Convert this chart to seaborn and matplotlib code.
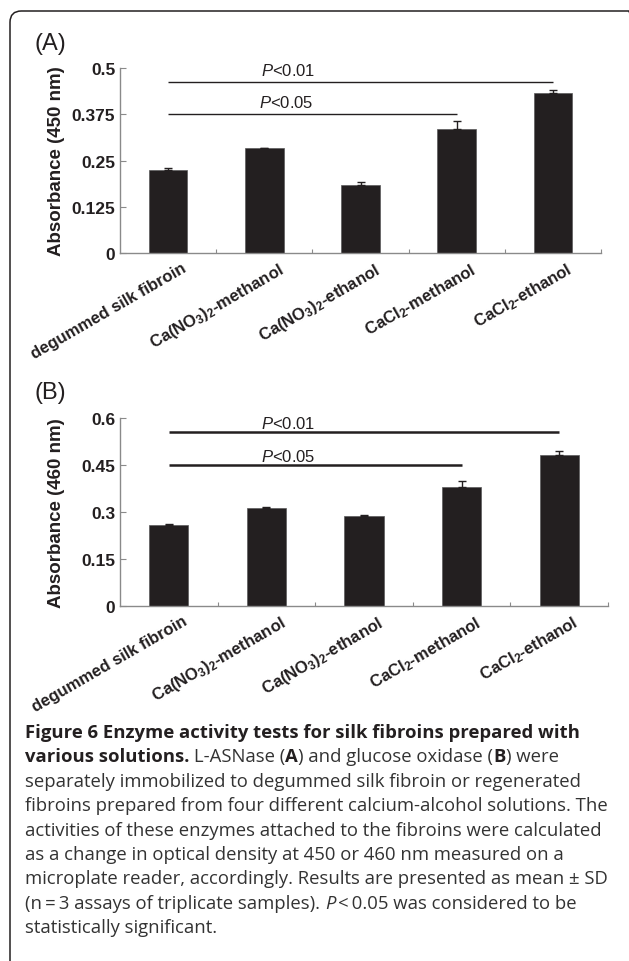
import numpy as np
import pandas as pd
import matplotlib
matplotlib.use("Agg")
import matplotlib.pyplot as plt
import seaborn as sns
from matplotlib.patches import FancyBboxPatch
from matplotlib.transforms import ScaledTranslation

# ---------------- data ----------------
categories = ["degummed silk fibroin", "Ca(NO3)2-methanol", "Ca(NO3)2-ethanol",
              "CaCl2-methanol", "CaCl2-ethanol"]
tick_labels = ["degummed silk fibroin",
               r"Ca(NO$_3$)$_2$-methanol",
               r"Ca(NO$_3$)$_2$-ethanol",
               r"CaCl$_2$-methanol",
               r"CaCl$_2$-ethanol"]

a_means = [0.224, 0.283, 0.183, 0.335, 0.432]
a_sd = [0.005, 0.002, 0.009, 0.022, 0.008]
a_yticks = [0, 0.125, 0.25, 0.375, 0.5]
a_yticklabels = ["0", "0.125", "0.25", "0.375", "0.5"]
a_ylabel = "Absorbance (450 nm)"

b_means = [0.258, 0.312, 0.288, 0.379, 0.481]
b_sd = [0.005, 0.005, 0.004, 0.019, 0.015]
b_yticks = [0, 0.15, 0.3, 0.45, 0.6]
b_yticklabels = ["0", "0.15", "0.3", "0.45", "0.6"]
b_ylabel = "Absorbance (460 nm)"

# significance brackets: (from cat, to cat, line y, text, text x)
a_sig = [(0, 4, 0.462, "<0.01", 1.25), (0, 3, 0.376, "<0.05", 1.23)]
b_sig = [(0, 4, 0.554, "<0.01", 1.22), (0, 3, 0.451, "<0.05", 1.22)]

caption_lines = [
    [("Figure 6 Enzyme activity tests for silk fibroins prepared with", "bold", "normal")],
    [("various solutions.", "bold", "normal"), (" L-ASNase (", "normal", "normal"),
     ("A", "bold", "normal"), (") and glucose oxidase (", "normal", "normal"),
     ("B", "bold", "normal"), (") were", "normal", "normal")],
    [("separately immobilized to degummed silk fibroin or regenerated", "normal", "normal")],
    [("fibroins prepared from four different calcium-alcohol solutions. The", "normal", "normal")],
    [("activities of these enzymes attached to the fibroins were calculated", "normal", "normal")],
    [("as a change in optical density at 450 or 460 nm measured on a", "normal", "normal")],
    [("microplate reader, accordingly. Results are presented as mean \u00b1 SD", "normal", "normal")],
    [("(n\u2009=\u20093 assays of triplicate samples). ", "normal", "normal"), ("P", "normal", "italic"),
     ("\u2009<\u20090.05 was considered to be", "normal", "normal")],
    [("statistically significant.", "normal", "normal")],
]

# ---------------- style ----------------
sns.set_style("ticks")
plt.rcParams["font.family"] = ["Liberation Sans", "DejaVu Sans"]
plt.rcParams["mathtext.fontset"] = "custom"
plt.rcParams["mathtext.rm"] = "Liberation Sans:bold"
plt.rcParams["mathtext.bf"] = "Liberation Sans:bold"
plt.rcParams["mathtext.it"] = "Liberation Sans:italic"
plt.rcParams["mathtext.default"] = "bf"

INK = "#231f20"
AXIS_GRAY = "#8a8a8a"
W, H = 629, 962
fig = plt.figure(figsize=(W / 100, H / 100), dpi=100)


def px_ax(l, r, t, b):
    return [l / W, 1 - b / H, (r - l) / W, (b - t) / H]


def panel(ax, means, sd, ylim, yticks, yticklabels, ylabel, sigs, sig_lw, txt_gap, ylab_x):
    df = pd.DataFrame({"cat": categories, "val": means})
    sns.barplot(data=df, x="cat", y="val", color=INK, width=0.4, errorbar=None,
                saturation=1, ax=ax, edgecolor="#5a5a5a", linewidth=0.5)
    x = np.arange(len(means))
    ax.errorbar(x, means, yerr=[np.zeros(len(sd)), sd], fmt="none", ecolor=INK,
                elinewidth=1.0, capsize=2.6, capthick=1.0, zorder=1)
    ax.set_xlim(-0.5, len(means) - 0.5)
    ax.set_ylim(*ylim)
    for s in ["top", "right"]:
        ax.spines[s].set_visible(False)
    for s in ["left", "bottom"]:
        ax.spines[s].set_color(AXIS_GRAY)
        ax.spines[s].set_linewidth(1.0)
    ax.set_yticks(yticks)
    ax.set_yticklabels(yticklabels, fontsize=12.5, fontweight="bold", color=INK)
    ax.tick_params(axis="y", direction="in", length=4, width=0.8, color=AXIS_GRAY, pad=3.5)
    ax.set_xticks(x)
    ax.set_xticklabels(tick_labels, rotation=30, ha="right", va="top",
                       rotation_mode="anchor", fontsize=12, fontweight="bold", color=INK)
    ax.set_xticks(np.arange(len(means)) + 0.5, minor=True)
    ax.tick_params(axis="x", which="major", length=0, pad=0)
    ax.tick_params(axis="x", which="minor", direction="in", length=3, width=0.8, color=AXIS_GRAY)
    off = ScaledTranslation(13 / 100, -7 / 100, fig.dpi_scale_trans)
    for lbl in ax.get_xticklabels():
        lbl.set_transform(lbl.get_transform() + off)
    ax.set_xlabel("")
    ax.set_ylabel(ylabel, fontsize=13.5, fontweight="bold", color=INK)
    ax.yaxis.set_label_coords(ylab_x, 0.5)
    for c0, c1, y, txt, tx in sigs:
        ax.plot([c0, c1], [y, y], color=INK, lw=sig_lw, solid_capstyle="butt")
        ax.annotate(r"$\mathit{P}$" + txt, xy=(tx, y), xytext=(0, txt_gap),
                    textcoords="offset points", ha="center", va="baseline",
                    fontsize=12, color=INK)


axA = fig.add_axes(px_ax(120, 601, 69, 254))
panel(axA, a_means, a_sd, (0, 0.5), a_yticks, a_yticklabels, a_ylabel, a_sig, 1.0, 5.0, -0.114)
axB = fig.add_axes(px_ax(120, 608, 419, 607))
panel(axB, b_means, b_sd, (0, 0.6), b_yticks, b_yticklabels, b_ylabel, b_sig, 1.8, 3.0, -0.113)

fig.text(35 / W, 1 - 44 / H, "(A)", fontsize=17, va="center", ha="left", color=INK)
fig.text(35 / W, 1 - 393 / H, "(B)", fontsize=17, va="center", ha="left", color=INK)

# rounded frame
frame = FancyBboxPatch((10 / W, -20 / H), (640 - 10) / W, (H - 12 + 20) / H,
                       boxstyle="round,pad=0,rounding_size=0.018",
                       transform=fig.transFigure, fill=False, edgecolor=INK,
                       linewidth=1.1, zorder=0, mutation_aspect=W / H)
fig.patches.append(frame)

# caption
renderer = fig.canvas.get_renderer()
CAP_FONT = ["Open Sans", "DejaVu Sans"]


def text_w(s, fs, weight="normal", style="normal"):
    t = fig.text(0, 0, s, fontsize=fs, fontweight=weight, fontstyle=style, family=CAP_FONT)
    w = t.get_window_extent(renderer).width
    t.remove()
    return w


ref_line = caption_lines[4][0][0]
fs = 10 * (602 - 25) / text_w(ref_line, 10)
space_w = text_w("a a", fs) - text_w("aa", fs)
x0, y0, dy = 25, 738, 24.4
for i, segs in enumerate(caption_lines):
    x = x0
    y = y0 + i * dy
    for s, weight, style in segs:
        lead = len(s) - len(s.lstrip(" "))
        trail = len(s) - len(s.rstrip(" "))
        core = s.strip(" ")
        x += lead * space_w
        t = fig.text(x / W, 1 - y / H, core, fontsize=fs, fontweight=weight,
                     fontstyle=style, family=CAP_FONT, va="baseline", ha="left",
                     color=INK if weight == "bold" else "#333333")
        x += t.get_window_extent(renderer).width + trail * space_w

fig.savefig("out.png", dpi=100, facecolor="white")
